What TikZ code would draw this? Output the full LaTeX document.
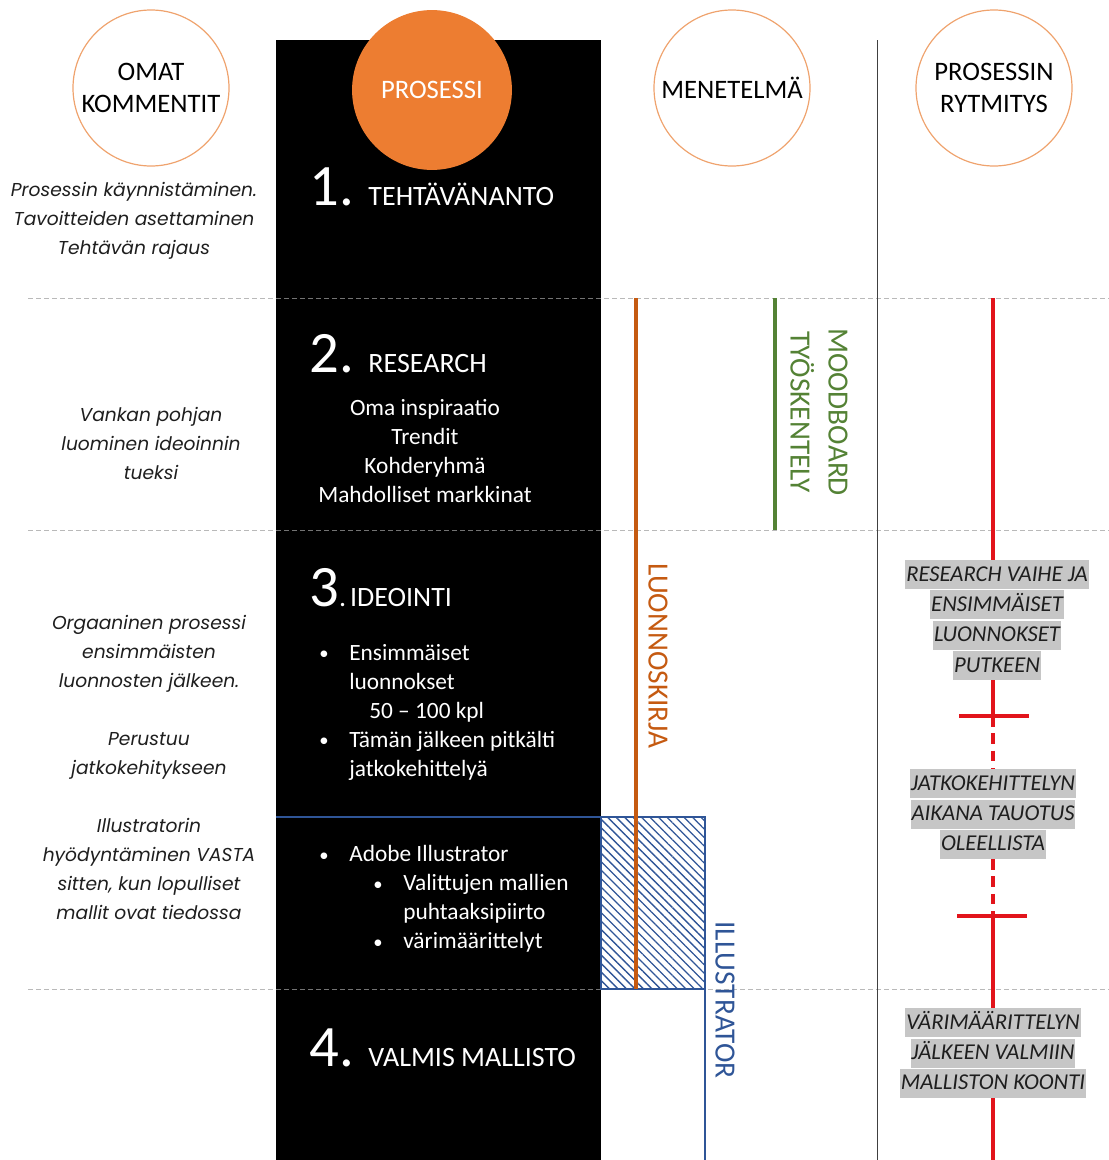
\documentclass[tikz,border=0pt]{standalone}
\usepackage{fontspec}
\setmainfont{Carlito}
\newfontfamily\commentfont{Poppins}
\usepackage{tikz}
\usetikzlibrary{positioning}
\usetikzlibrary{calc}
\usetikzlibrary{patterns.meta}
\definecolor{procorange}{HTML}{ED7D31}
\definecolor{ringorange}{HTML}{EFA36E}
\definecolor{sketchbrown}{HTML}{C55A11}
\definecolor{moodgreen}{HTML}{548235}
\definecolor{illublue}{HTML}{2F5597}
\definecolor{rhythmred}{HTML}{E2141B}
\definecolor{markgray}{HTML}{C6C6C6}
\definecolor{commentgray}{HTML}{1E1E1E}
\newcommand{\stepnum}[1]{{\fontsize{44}{44}\selectfont #1}}
\newcommand{\bul}{\makebox[22.5pt][l]{\raisebox{0.5pt}{\scalebox{0.8}{\textbullet}}}}
\newcommand{\hl}[1]{{\setlength{\fboxsep}{0.6pt}\colorbox{markgray}{\rule[-5.4pt]{0pt}{20.55pt}#1}}}
\tikzset{header/.style={circle, draw=ringorange, line width=0.9pt, minimum size=117pt, inner sep=0pt, align=center, font=\fontsize{20}{24.5}\selectfont}}
\tikzset{steptitle/.style={anchor=base west, text=white, inner sep=0pt, font=\fontsize{21}{21}\selectfont}}
\tikzset{listtext/.style={text=white, inner sep=0pt, font=\fontsize{17.5}{21.75}\selectfont}}
\tikzset{comment/.style={align=center, inner sep=0pt, text=commentgray, font=\commentfont\itshape\fontsize{14}{21.75}\selectfont}}
\tikzset{method/.style={rotate=-90, inner sep=0pt, align=center, font=\fontsize{22}{28.5}\selectfont}}
\tikzset{marknote/.style={align=center, inner sep=0pt, text=commentgray, font=\itshape\fontsize{17}{21.75}\selectfont}}
\tikzset{separator/.style={gray!55, line width=0.7pt, dash pattern=on 4pt off 2pt}}
\tikzset{rhythm/.style={rhythmred, line width=2.3pt}}

\begin{document}
\begin{tikzpicture}[x=0.75pt, y=-0.75pt]
        \useasboundingbox (0,0) rectangle (1109,1160);

        % Phase separators and process column
        \foreach \y in {298,530,989} \draw[separator] (28,\y) -- (1109,\y);
        \fill[black] (276,40) rectangle (601,1160);
        \foreach \y in {298,530,989} \draw[separator, draw=black!55] (276,\y) -- (601,\y);
        \draw[black!75, line width=0.75pt] (877,40) -- (877,1160);

        % Header circles
        \node[header] (comments) at (151,88) {OMAT\\KOMMENTIT};
        \node[header, fill=procorange, draw=procorange, text=white, minimum size=119pt] (process) at (432,90) {PROSESSI};
        \node[header] (method) at (732,88) {MENETELMÄ};
        \node[header] (rhythm) at (994,88) {PROSESSIN\\RYTMITYS};

        % Process steps
        \node[steptitle] (brief) at (309,205) {\stepnum{1.}\hspace{11pt}TEHTÄVÄNANTO};
        \node[steptitle] (research) at (309,372) {\stepnum{2.}\hspace{11pt}RESEARCH};
        \node[steptitle] (ideation) at (309,606) {\stepnum{3}.\hspace{3pt}IDEOINTI};
        \node[steptitle] (collection) at (309,1066) {\stepnum{4.}\hspace{11pt}VALMIS MALLISTO};

        \node[listtext, align=center] (sources) at (425,451) {Oma inspiraatio\\Trendit\\Kohderyhmä\\Mahdolliset markkinat};
        \node[listtext, align=left, anchor=west] (sketches) at (319,712) {\bul Ensimmäiset\\\hspace*{22.5pt}luonnokset\\\hspace*{37.5pt}50 – 100 kpl\\\bul Tämän jälkeen pitkälti\\\hspace*{22.5pt}jatkokehittelyä};
        \node[listtext, align=left, anchor=west] (tools) at (319,899) {\bul Adobe Illustrator\\\hspace*{40.5pt}\bul Valittujen mallien\\\hspace*{63pt}puhtaaksipiirto\\\hspace*{40.5pt}\bul värimäärittelyt};

        % Own comments
        \node[comment] (startnote) at (134,221) {Prosessin käynnistäminen.\\Tavoitteiden asettaminen\\Tehtävän rajaus};
        \node[comment] (basenote) at (151,443) {Vankan pohjan\\luominen ideoinnin\\tueksi};
        \node[comment] (ideanote) at (149,767) {Orgaaninen prosessi\\ensimmäisten\\luonnosten jälkeen.\\[21.75pt]Perustuu\\jatkokehitykseen\\[21.75pt]Illustratorin\\hyödyntäminen VASTA\\sitten, kun lopulliset\\mallit ovat tiedossa};

        % Methods
        \draw[illublue, line width=2.2pt, pattern={Lines[angle=-45,distance=4.5pt,line width=1pt]}, pattern color=illublue] (601,817) rectangle (705,989);
        \draw[illublue, line width=2.2pt] (276,817) -- (601,817);
        \draw[illublue, line width=2.2pt] (705,989) -- (705,1160);
        \draw[sketchbrown, line width=2.3pt] (636,298) -- (636,989);
        \draw[moodgreen, line width=2.5pt] (775,298) -- (775,530);
        \node[method, text=sketchbrown] (sketchbook) at (658,656) {LUONNOSKIRJA};
        \node[method, text=moodgreen] (moodboard) at (819,412) {MOODBOARD\\TYÖSKENTELY};
        \node[method, text=illublue] (illustrator) at (725,1000) {ILLUSTRATOR};

        % Rhythm
        \node[marknote] (firstrun) at (997,620) {\hl{RESEARCH VAIHE JA}\\\hl{ENSIMMÄISET}\\\hl{LUONNOKSET}\\\hl{PUTKEEN}};
        \node[marknote] (pausenote) at (993,814) {\hl{JATKOKEHITTELYN}\\\hl{AIKANA TAUOTUS}\\\hl{OLEELLISTA}};
        \node[marknote] (finalnote) at (993,1053) {\hl{VÄRIMÄÄRITTELYN}\\\hl{JÄLKEEN VALMIIN}\\\hl{MALLISTON KOONTI}};
        \coordinate (rtop) at (993,298);
        \coordinate (pause1) at (993,716);
        \coordinate (pause2) at (993,916);
        \coordinate (rbottom) at (993,1160);
        \draw[rhythm] (rtop) -- (rtop |- firstrun.north);
        \draw[rhythm] (rtop |- firstrun.south) -- (pause1);
        \draw[rhythm, dash pattern=on 8pt off 5pt] (pause1) -- (pause1 |- pausenote.north);
        \draw[rhythm, dash pattern=on 8pt off 5pt] (pause1 |- pausenote.south) -- (pause2);
        \draw[rhythm] (pause2) -- (pause2 |- finalnote.north);
        \draw[rhythm] (pause2 |- finalnote.south) -- (rbottom);
        \draw[rhythm] (pause1) ++(-34,0) -- ++(70,0);
        \draw[rhythm] (pause2) ++(-36,0) -- ++(70,0);
    \end{tikzpicture}
\end{document}
